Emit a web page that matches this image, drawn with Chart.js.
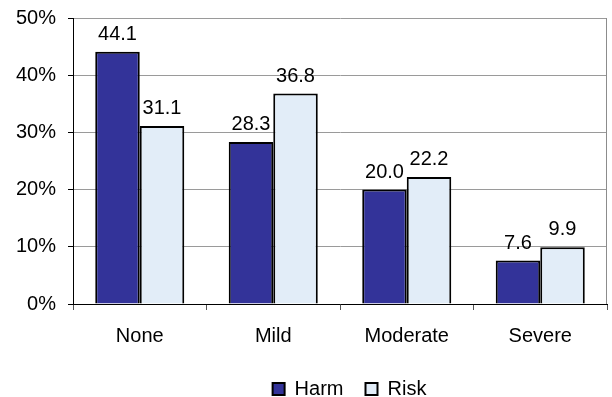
<!DOCTYPE html>
<html>
<head>
<meta charset="utf-8">
<script src="https://cdn.jsdelivr.net/npm/chart.js@4"></script>
<style>
  html, body { margin: 0; padding: 0; background: #fff; }
  #wrap { width: 612px; height: 397px; }
</style>
</head>
<body>
<div id="wrap"><canvas id="c" width="612" height="397"></canvas></div>
<script>
// Severity categories and the share (%) of responses in each
const categories = ['None', 'Mild', 'Moderate', 'Severe'];
const harmValues = [44.1, 28.3, 20.0, 7.6];
const riskValues = [31.1, 36.8, 22.2, 9.9];
const yTicks = [0, 10, 20, 30, 40, 50];

const FONT = 'Liberation Sans, Arial, sans-serif';
const FONT_SIZE = 20;

// Writes each bar's value above it
const valueLabels = {
  id: 'valueLabels',
  afterDatasetsDraw(chart) {
    const ctx = chart.ctx;
    ctx.save();
    ctx.font = FONT_SIZE + 'px ' + FONT;
    ctx.fillStyle = '#000';
    ctx.textAlign = 'center';
    ctx.textBaseline = 'alphabetic';
    chart.data.datasets.forEach((ds, i) => {
      chart.getDatasetMeta(i).data.forEach((bar, j) => {
        ctx.fillText(ds.data[j].toFixed(1), bar.x, bar.y - 12);
      });
    });
    ctx.restore();
  }
};

// Closes the plot frame on the right side
const frameRight = {
  id: 'frameRight',
  beforeDatasetsDraw(chart) {
    const a = chart.chartArea;
    const ctx = chart.ctx;
    ctx.save();
    ctx.strokeStyle = '#8c8c8c';
    ctx.lineWidth = 1;
    ctx.beginPath();
    ctx.moveTo(a.right - 0.5, a.top);
    ctx.lineTo(a.right - 0.5, a.bottom);
    ctx.stroke();
    ctx.restore();
  }
};

// Legend sits right of the canvas centre, under the last three categories
const legendShift = {
  id: 'legendShift',
  afterLayout(chart) {
    const lg = chart.legend;
    if (lg) { lg.left += 46; lg.right += 46; }
  }
};

new Chart(document.getElementById('c'), {
  type: 'bar',
  data: {
    labels: categories,
    datasets: [
      {
        label: 'Harm',
        data: harmValues,
        backgroundColor: '#333399',
        borderColor: '#000',
        borderWidth: 2,
        borderSkipped: 'bottom'
      },
      {
        label: 'Risk',
        data: riskValues,
        backgroundColor: '#e2edf8',
        borderColor: '#000',
        borderWidth: 2,
        borderSkipped: 'bottom'
      }
    ]
  },
  options: {
    responsive: false,
    animation: false,
    devicePixelRatio: 1,
    layout: { padding: { left: 0, right: 5, top: 18, bottom: -12 } },
    datasets: {
      bar: { categoryPercentage: 0.667, barPercentage: 1.0 }
    },
    scales: {
      x: {
        offset: true,
        grid: {
          offset: true,
          drawOnChartArea: false,
          drawTicks: true,
          tickLength: 6,
          tickColor: '#555'
        },
        border: { color: '#000', width: 1 },
        ticks: {
          font: { family: FONT, size: FONT_SIZE },
          color: '#000',
          padding: 14
        },
        afterFit(s) { s.height = 53; s.paddingLeft = 0; s.paddingRight = 0; }
      },
      y: {
        min: 0,
        max: 50,
        afterBuildTicks(s) { s.ticks = yTicks.map(v => ({ value: v })); },
        grid: {
          color: '#9a9a9a',
          tickColor: '#000',
          tickLength: 5,
          drawTicks: true
        },
        border: { color: '#000', width: 1 },
        ticks: {
          font: { family: FONT, size: FONT_SIZE },
          color: '#000',
          padding: 12,
          callback: v => v + '%'
        },
        afterFit(s) { s.width = 73; s.paddingTop = 0; s.paddingBottom = 0; }
      }
    },
    plugins: {
      legend: {
        position: 'bottom',
        labels: {
          font: { family: FONT, size: FONT_SIZE },
          color: '#000',
          boxWidth: 12,
          boxHeight: 12,
          padding: 22,
          generateLabels(chart) {
            return chart.data.datasets.map((ds, i) => ({
              text: ds.label,
              fillStyle: ds.backgroundColor,
              strokeStyle: '#000',
              lineWidth: 2,
              datasetIndex: i,
              hidden: false
            }));
          }
        }
      },
      tooltip: { enabled: false }
    }
  },
  plugins: [valueLabels, frameRight, legendShift]
});
</script>
</body>
</html>
